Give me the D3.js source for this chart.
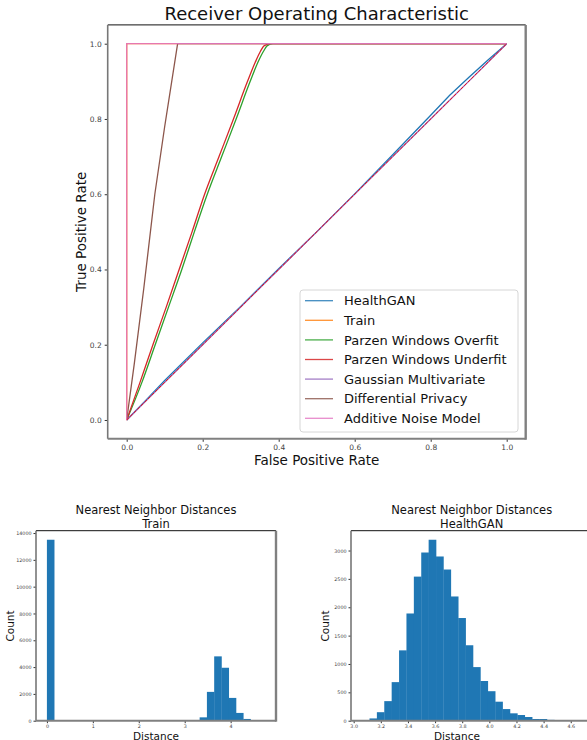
<!DOCTYPE html>
<html><head><meta charset="utf-8">
<script src="https://cdn.jsdelivr.net/npm/d3@7"></script>
<style>body{margin:0;background:#fff}svg{display:block}text{font-family:"DejaVu Sans",sans-serif}</style>
</head><body>
<svg id="c" width="587" height="740"></svg>
<script>
// ---------- ROC data ----------
const seriesNames = ["HealthGAN","Train","Parzen Windows Overfit","Parzen Windows Underfit","Gaussian Multivariate","Differential Privacy","Additive Noise Model"];
const seriesColors = ["#1f77b4","#ff7f0e","#2ca02c","#d62728","#9467bd","#8c564b","#e377c2"];
const healthganFpr = [0,0.05,0.1,0.2,0.3,0.4,0.5,0.6,0.7,0.8,0.85,0.9,0.95,1];
const healthganTpr = [0,0.052,0.105,0.205,0.302,0.402,0.5,0.601,0.705,0.81,0.863,0.91,0.956,1];
const trainFpr = [0,0,1];
const trainTpr = [0,1,1];
const overfitFpr = [0,0.04,0.075,0.11,0.145,0.178,0.212,0.25,0.288,0.325,0.345,0.36,0.37,0.385,1];
const overfitTpr = [0,0.1,0.2,0.3,0.4,0.5,0.6,0.7,0.8,0.9,0.95,0.98,0.995,1,1];
const underfitFpr = [0,0.035,0.069,0.104,0.138,0.172,0.205,0.243,0.281,0.318,0.338,0.352,0.362,0.38,1];
const underfitTpr = [0,0.1,0.2,0.3,0.4,0.5,0.6,0.7,0.8,0.9,0.95,0.98,0.995,1,1];
const gaussianFpr = [0,0.1,0.2,0.3,0.5,0.7,0.8,0.9,1];
const gaussianTpr = [0,0.1,0.2,0.3,0.5,0.7,0.8,0.9,1];
const dpFpr = [0,0.02,0.045,0.074,0.1,0.134,1];
const dpTpr = [0,0.15,0.35,0.6,0.78,1,1];
const additiveFpr = [0,0,1];
const additiveTpr = [0,1,1];
const rocTicks = [0.0,0.2,0.4,0.6,0.8,1.0];

// ---------- Histogram data ----------
const trainRange = [0, 4.75];
const trainCounts = [13500,0,0,0,0,0,0,0,0,0,0,0,0,0,0,0,0,0,0,0,0,250,2150,4800,3950,1700,580,130,50,12];
const trainXTicks = [0,1,2,3,4];
const trainYTicks = [0,2000,4000,6000,8000,10000,12000,14000];
const ganRange = [3.062, 4.697];
const ganCounts = [10,40,150,345,680,1240,1890,2540,2965,3190,2895,2665,2190,1810,1330,945,700,520,335,205,130,100,65,30,30,15,12,10,8,12];
const ganXTicks = [3.0,3.2,3.4,3.6,3.8,4.0,4.2,4.4,4.6];
const ganYTicks = [0,500,1000,1500,2000,2500,3000];

const svg = d3.select("#c");
const tickColor = "#444";

function spines(g, x0, y0, x1, y1) {
  g.append("line").attr("x1",x0).attr("x2",x1).attr("y1",y0).attr("y2",y0).attr("stroke","#111").attr("stroke-width",1);
  g.append("line").attr("x1",x0).attr("x2",x0).attr("y1",y0).attr("y2",y1).attr("stroke","#777").attr("stroke-width",1.6);
  g.append("line").attr("x1",x1).attr("x2",x1).attr("y1",y0).attr("y2",y1+1).attr("stroke","#808080").attr("stroke-width",2.4);
  g.append("line").attr("x1",x0).attr("x2",x1).attr("y1",y1).attr("y2",y1).attr("stroke","#808080").attr("stroke-width",2);
}

// ---------- ROC ----------
{
  const x = d3.scaleLinear().domain([-0.05,1.05]).range([107.7,525.7]);
  const y = d3.scaleLinear().domain([-0.05,1.05]).range([438.8,24.9]);
  const g = svg.append("g");
  const series = [
    [healthganFpr,healthganTpr],[trainFpr,trainTpr],[overfitFpr,overfitTpr],[underfitFpr,underfitTpr],
    [gaussianFpr,gaussianTpr],[dpFpr,dpTpr],[additiveFpr,additiveTpr]
  ];
  const line = d3.line().x(d=>x(d[0])).y(d=>y(d[1]));
  const smooth = d3.line().x(d=>x(d[0])).y(d=>y(d[1])).curve(d3.curveMonotoneX);
  series.forEach((s,i)=>{
    const pts = s[0].map((v,j)=>[v,s[1][j]]);
    const gen = (i===2||i===3) ? smooth : line;
    g.append("path").attr("d",gen(pts)).attr("fill","none").attr("stroke",seriesColors[i])
      .attr("stroke-width",1.3).attr("stroke-opacity", i===6 ? 0.9 : 1);
  });
  g.append("path").attr("d",line([[0,0],[1,1]])).attr("fill","none").attr("stroke","#ff0000").attr("stroke-width",0.9).attr("stroke-dasharray","3.5,1.5");

  const xa = g.append("g").attr("transform","translate(0,438.8)").call(d3.axisBottom(x).tickValues(rocTicks).tickFormat(d3.format(".1f")).tickSize(3).tickPadding(3));
  const ya = g.append("g").attr("transform","translate(107.7,0)").call(d3.axisLeft(y).tickValues(rocTicks).tickFormat(d3.format(".1f")).tickSize(3).tickPadding(3));
  [xa,ya].forEach(a=>{a.select(".domain").remove();a.selectAll("text").attr("font-size",7.5).attr("fill",tickColor).attr("font-family","DejaVu Sans");a.selectAll("line").attr("stroke","#333");});
  spines(g,107.7,24.9,525.7,438.8);

  g.append("text").attr("x",316.7).attr("y",20).attr("text-anchor","middle").attr("font-size",18).attr("fill","#111").text("Receiver Operating Characteristic");
  g.append("text").attr("x",316.7).attr("y",465).attr("text-anchor","middle").attr("font-size",13.5).attr("fill","#111").text("False Positive Rate");
  g.append("text").attr("transform","translate(86,231.8) rotate(-90)").attr("text-anchor","middle").attr("font-size",13.5).attr("fill","#111").text("True Positive Rate");

  // legend
  const lg = g.append("g");
  lg.append("rect").attr("x",300).attr("y",290).attr("width",218).attr("height",142).attr("rx",3).attr("fill","#fff").attr("fill-opacity",0.85).attr("stroke","#d6d6d6").attr("stroke-width",1);
  seriesNames.forEach((n,i)=>{
    const yy = 300.7 + i*19.6;
    lg.append("line").attr("x1",305).attr("x2",333).attr("y1",yy).attr("y2",yy).attr("stroke",seriesColors[i]).attr("stroke-width",1.3).attr("stroke-opacity",0.85);
    lg.append("text").attr("x",344).attr("y",yy+4.6).attr("font-size",13).attr("fill","#111").text(n);
  });
}

// ---------- Histograms ----------
function hist(opt) {
  const {counts, range, xTicks, yTicks, xDomain, yMax, left, right, title2, cx, fmt} = opt;
  const top = 530.7, bottom = 720.7;
  const x = d3.scaleLinear().domain(xDomain).range([left,right]);
  const y = d3.scaleLinear().domain([0,yMax]).range([bottom,top]);
  const n = counts.length, w = (range[1]-range[0])/n;
  const g = svg.append("g");
  const clipId = "clip"+Math.round(left);
  g.append("clipPath").attr("id",clipId).append("rect").attr("x",left).attr("y",top).attr("width",right-left).attr("height",bottom-top+2);
  g.append("g").attr("clip-path",`url(#${clipId})`).selectAll("rect").data(counts).join("rect")
    .attr("x",(d,i)=>x(range[0]+i*w)).attr("width",(d,i)=>x(range[0]+(i+1)*w)-x(range[0]+i*w)+0.3)
    .attr("y",d=>y(d)).attr("height",d=>bottom-y(d)).attr("fill","#1f77b4");
  const xa = g.append("g").attr("transform",`translate(0,${bottom})`).call(d3.axisBottom(x).tickValues(xTicks).tickFormat(fmt).tickSize(2.5).tickPadding(1));
  const ya = g.append("g").attr("transform",`translate(${left},0)`).call(d3.axisLeft(y).tickValues(yTicks).tickFormat(d3.format("d")).tickSize(2.5).tickPadding(2));
  [xa,ya].forEach(a=>{a.select(".domain").remove();a.selectAll("text").attr("font-size",4.8).attr("fill",tickColor).attr("font-family","DejaVu Sans");a.selectAll("line").attr("stroke","#333");});
  spines(g,left,top,right,bottom);
  g.append("text").attr("x",cx).attr("y",514).attr("text-anchor","middle").attr("font-size",11.5).attr("fill","#111").text("Nearest Neighbor Distances");
  g.append("text").attr("x",cx).attr("y",528).attr("text-anchor","middle").attr("font-size",11.5).attr("fill","#111").text(title2);
  g.append("text").attr("x",(left+Math.min(right,587))/2 + (opt.xlabShift||0)).attr("y",739.5).attr("text-anchor","middle").attr("font-size",10.5).attr("fill","#111").text("Distance");
  g.append("text").attr("transform",`translate(${left-22},626) rotate(-90)`).attr("text-anchor","middle").attr("font-size",10.5).attr("fill","#111").text("Count");
}
{
  const span = trainRange[1]-trainRange[0];
  hist({counts:trainCounts, range:trainRange, xTicks:trainXTicks, yTicks:trainYTicks,
    xDomain:[trainRange[0]-0.05*span, trainRange[1]+0.05*span], yMax:d3.max(trainCounts)*1.05,
    left:36, right:276, title2:"Train", cx:156, fmt:d3.format("d")});
}
{
  const span = ganRange[1]-ganRange[0];
  hist({counts:ganCounts, range:ganRange, xTicks:ganXTicks, yTicks:ganYTicks,
    xDomain:[ganRange[0]-0.05*span, ganRange[1]+0.05*span], yMax:d3.max(ganCounts)*1.05,
    left:351, right:595, title2:"HealthGAN", cx:471.7, fmt:d3.format(".1f"), xlabShift:-12});
}
</script>
</body></html>
